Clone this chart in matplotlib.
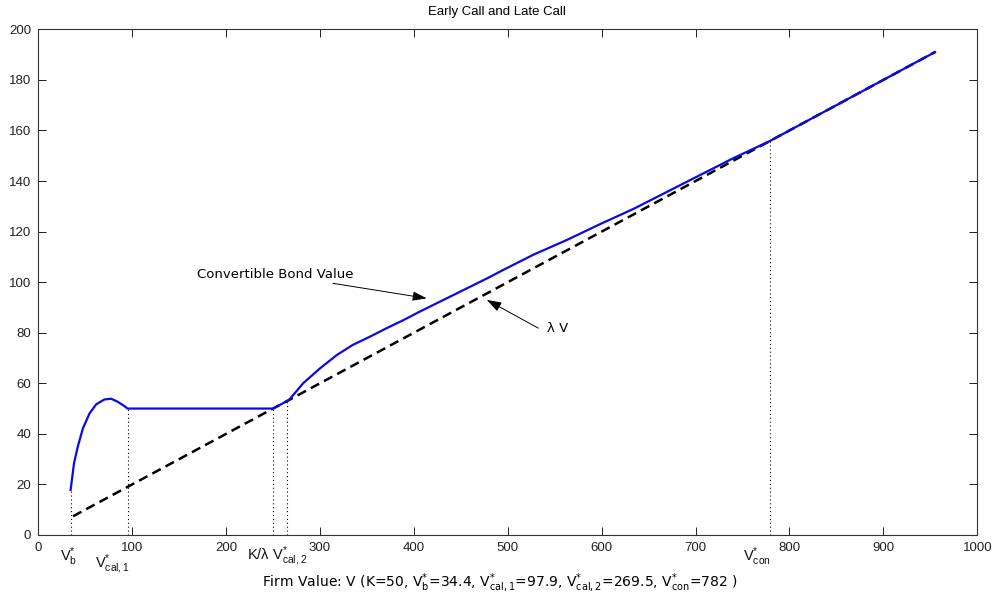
import matplotlib
matplotlib.use("Agg")
import matplotlib.pyplot as plt
from matplotlib.transforms import blended_transform_factory

plt.rcParams['font.family'] = ['Liberation Sans', 'DejaVu Sans']
plt.rcParams['mathtext.default'] = 'regular'

# Convertible bond value curve
bond_x = [34.4, 38, 42, 47.5, 54.6, 61.7, 70.4, 77.5, 84.5, 91.6, 95,
          250, 267, 282, 300, 318, 335, 353, 371, 389, 406, 424, 442,
          460, 478, 495, 527, 563, 598, 634, 669, 705, 740, 778, 955]
bond_y = [17.8, 28.3, 34.9, 42.2, 48.1, 51.7, 53.6, 53.9, 52.7, 51, 50,
          50, 53.4, 60, 65.9, 71.2, 75.2, 78.4, 81.8, 85, 88.3, 91.6, 94.9,
          98.2, 101.5, 104.8, 110.8, 116.7, 122.9, 129, 135.6, 142.4, 149, 155.6, 191]

# lambda*V line endpoints
line_x = [37, 955]
line_y = [7.4, 191]

# dotted marker lines
dotted_x = [34.4, 95, 250, 265, 779]
dotted_top = [17.8, 50, 50, 53, 155.8]

xticks = list(range(0, 1001, 100))
yticks = list(range(0, 201, 20))

special_labels = [r'$V^{*}_{b}$', r'$V^{*}_{cal,1}$', r'K/λ $V^{*}_{cal,2}$', r'$V^{*}_{con}$']
special_pos = [23, 60, 222, 751]
special_y = [-0.02, -0.036, -0.02, -0.02]

title = 'Early Call and Late Call'
xlabel = (r'Firm Value: V (K=50, $V^{*}_{b}$=34.4, $V^{*}_{cal,1}$=97.9, '
          r'$V^{*}_{cal,2}$=269.5, $V^{*}_{con}$=782 )')

TXT = ['DejaVu Sans']

fig = plt.figure(figsize=(9.95, 6.03), dpi=100)
ax = fig.add_axes([0.0385, 0.1128, 0.9437, 0.8386])

ax.vlines(dotted_x, 0, dotted_top, colors='black', linestyles=(0, (1, 2.5)), linewidth=0.8)
ax.plot(line_x, line_y, color='black', linewidth=1.8, dashes=(3.8, 2.2))
ax.plot(bond_x, bond_y, color='#0a0ae6', linewidth=1.6)

ax.set_xlim(0, 1000)
ax.set_ylim(0, 200)
ax.set_xticks(xticks)
ax.set_yticks(yticks)
ax.tick_params(direction='in', top=True, right=True, length=6, width=0.7,
               labelsize=9.5, colors='#222222', pad=5)
for s in ax.spines.values():
    s.set_linewidth(0.8)
    s.set_color('#333333')

trans = blended_transform_factory(ax.transData, ax.transAxes)
for lab, pos, yy in zip(special_labels, special_pos, special_y):
    ax.text(pos, yy, lab, transform=trans, ha='left', va='top', fontsize=10.5, color='#111111')

ax.annotate('Convertible Bond Value', xy=(413.6, 93.6), xytext=(168.7, 103.2),
            fontsize=9.5, family=TXT, va='center', ha='left',
            arrowprops=dict(arrowstyle='-|>,head_length=0.9,head_width=0.3',
                            color='black', lw=0.7, shrinkA=0, shrinkB=0))
ax.annotate('', xy=(477.5, 93), xytext=(532.5, 81.8),
            arrowprops=dict(arrowstyle='-|>,head_length=0.9,head_width=0.3',
                            color='black', lw=0.7, shrinkA=0, shrinkB=0))
ax.text(542, 81.8, 'λ V', fontsize=9.5, family=TXT, va='center', ha='left')

fig.text(497 / 995, 1 - 12 / 603, title, ha='center', va='center', fontsize=9.5)
fig.text(500 / 995, 1 - 583 / 603, xlabel, ha='center', va='center', fontsize=10, family=TXT)

fig.savefig('out.png', dpi=100, facecolor='white')
